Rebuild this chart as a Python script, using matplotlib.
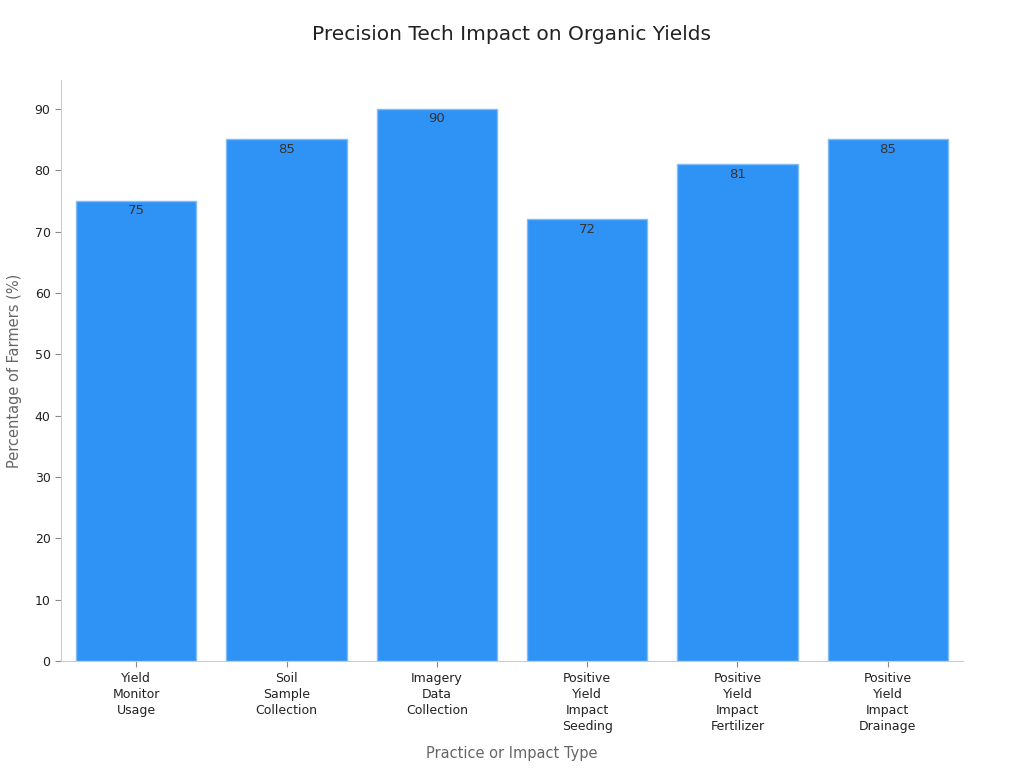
import matplotlib
matplotlib.use('Agg')
import matplotlib.pyplot as plt

# Data
categories = ['Yield\nMonitor\nUsage', 'Soil\nSample\nCollection', 'Imagery\nData\nCollection',
              'Positive\nYield\nImpact\nSeeding', 'Positive\nYield\nImpact\nFertilizer',
              'Positive\nYield\nImpact\nDrainage']
values = [75, 85, 90, 72, 81, 85]
yticks = [0, 10, 20, 30, 40, 50, 60, 70, 80, 90]

fig = plt.figure(figsize=(10.24, 7.68), dpi=100)
ax = fig.add_axes([0.0596, 0.139, 0.8808, 0.757])

x = range(len(categories))
bars = ax.bar(x, values, width=0.8, color='#2f92f5', edgecolor='#7fbcf8', linewidth=1)

for b, v in zip(bars, values):
    ax.text(b.get_x() + b.get_width() / 2, v - 0.6, str(v), ha='center', va='top',
            fontsize=9.5, color='#333333')

# Axes
ax.set_xlim(-0.5, 5.5)
ax.set_ylim(0, 94.7)
ax.set_xticks(list(x))
ax.set_xticklabels(categories, fontsize=9, color='#222222', linespacing=1.3)
ax.set_yticks(yticks)
ax.tick_params(axis='y', labelsize=9, colors='#222222')
ax.tick_params(axis='both', color='#888888', length=4)

for s in ['top', 'right']:
    ax.spines[s].set_visible(False)
for s in ['left', 'bottom']:
    ax.spines[s].set_color('#cccccc')

# Labels
ax.set_xlabel('Practice or Impact Type', fontsize=10.5, color='#666666', labelpad=9.5)
ax.set_ylabel('Percentage of Farmers (%)', fontsize=10.5, color='#666666', labelpad=9)
fig.suptitle('Precision Tech Impact on Organic Yields', fontsize=14.5, color='#222222', y=0.967)

fig.savefig('out.png', dpi=100)
